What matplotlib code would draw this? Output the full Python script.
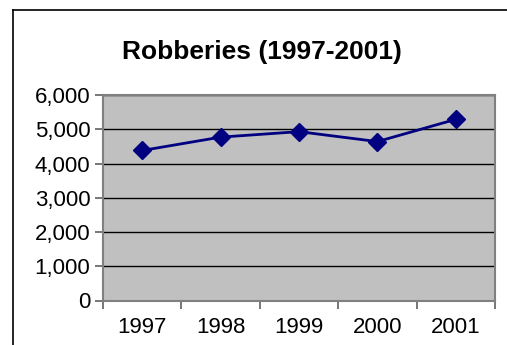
"""Robberies 1997-2001 line chart, Excel-style."""

import matplotlib

matplotlib.use("Agg")
import matplotlib.pyplot as plt
from matplotlib.lines import Line2D
from matplotlib.ticker import FuncFormatter, MultipleLocator

years = ["1997", "1998", "1999", "2000", "2001"]
robberies = [4380, 4770, 4930, 4640, 5290]

plt.rcParams["font.family"] = ["Liberation Sans", "DejaVu Sans"]

W, H = 507, 345
fig = plt.figure(figsize=(W / 100, H / 100), dpi=100)
fig.patch.set_facecolor("white")

# outer chart border (only left and top edges visible in the crop)
fig.add_artist(Line2D([13 / W, 13 / W], [0, 1 - 10 / H], color="black", lw=1.2))
fig.add_artist(Line2D([13 / W, 1], [1 - 10 / H, 1 - 10 / H], color="black", lw=1.2))

ax = fig.add_axes([103 / W, 1 - 300.5 / H, (495 - 103) / W, (300.5 - 95) / H])
ax.set_facecolor("#c0c0c0")

x = list(range(len(years)))
ax.plot(x, robberies, color="#000080", lw=2, marker="D", markersize=9,
        zorder=3, clip_on=False)

ax.set_xlim(-0.5, len(years) - 0.5)
ax.set_ylim(0, 6000)
ax.yaxis.set_major_locator(MultipleLocator(1000))
ax.yaxis.set_major_formatter(FuncFormatter(lambda v, _: f"{int(v):,}"))
ax.grid(True, axis="y", color="black", lw=1)
ax.set_axisbelow(True)

ax.set_xticks([i - 0.5 for i in range(len(years) + 1)])
ax.set_xticklabels([])
ax.set_xticks(x, minor=True)
ax.set_xticklabels(years, minor=True)
ax.tick_params(axis="x", which="minor", length=0, labelsize=16, pad=12)
ax.tick_params(axis="x", which="major", length=6, color="#606060", width=1.2)
ax.tick_params(axis="y", length=6, color="#606060", width=1.2, labelsize=16, pad=3)

for side in ax.spines.values():
    side.set_color("#808080")
    side.set_linewidth(1.5)

fig.text(262 / W, 1 - 52 / H, "Robberies (1997-2001)", ha="center", va="center",
         fontsize=19, fontweight="bold")

fig.savefig("out.png", dpi=100)
